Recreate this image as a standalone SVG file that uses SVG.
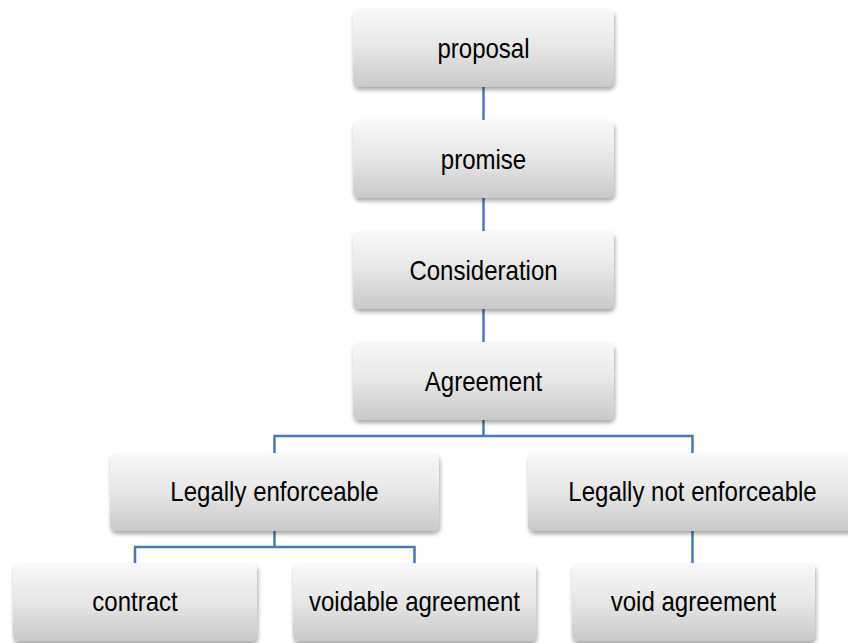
<svg xmlns="http://www.w3.org/2000/svg" width="848" height="643" viewBox="0 0 848 643">
<defs>
<linearGradient id="g" x1="0" y1="0" x2="0" y2="1">
<stop offset="0" stop-color="#f9f9f9"/>
<stop offset="0.5" stop-color="#e6e6e6"/>
<stop offset="1" stop-color="#c9c9c9"/>
</linearGradient>
<filter id="sh" x="-10%" y="-10%" width="120%" height="130%">
<feDropShadow dx="1" dy="3" stdDeviation="2" flood-color="#000" flood-opacity="0.35"/>
</filter>
</defs>
<style>
.n rect{fill:url(#g);filter:url(#sh)}
.n text{font-family:"Liberation Sans",Arial,sans-serif;font-size:27px;fill:#000;text-anchor:middle}
#connectors path{fill:none;stroke:#4a78b4;stroke-width:2.5}
</style>
<rect width="848" height="643" fill="#fff"/>
<g id="connectors">
<path d="M483.5 87V120"/>
<path d="M483.5 198V231"/>
<path d="M483.5 309V342"/>
<path d="M483.5 420V436M274.5 453V436H692.5V453"/>
<path d="M274.5 531V547M135 563V547H414.5V563"/>
<path d="M692.5 531V563"/>
</g>
<g id="proposal" class="n"><rect x="353" y="9" width="261" height="78" rx="6"/><text transform="translate(483.5 57.5) scale(0.89 1)">proposal</text></g>
<g id="promise" class="n"><rect x="353" y="120" width="261" height="78" rx="6"/><text transform="translate(483.5 168.5) scale(0.89 1)">promise</text></g>
<g id="consideration" class="n"><rect x="353" y="231" width="261" height="78" rx="6"/><text transform="translate(483.5 279.5) scale(0.89 1)">Consideration</text></g>
<g id="agreement" class="n"><rect x="353" y="342" width="261" height="78" rx="6"/><text transform="translate(483.5 390.5) scale(0.89 1)">Agreement</text></g>
<g id="legally-enforceable" class="n"><rect x="110" y="453" width="329" height="78" rx="6"/><text transform="translate(274.5 500.5) scale(0.89 1)">Legally enforceable</text></g>
<g id="legally-not-enforceable" class="n"><rect x="528" y="453" width="329" height="78" rx="6"/><text transform="translate(692.5 500.5) scale(0.89 1)">Legally not enforceable</text></g>
<g id="contract" class="n"><rect x="13" y="563" width="244" height="78" rx="6"/><text transform="translate(135 610.5) scale(0.89 1)">contract</text></g>
<g id="voidable-agreement" class="n"><rect x="293" y="563" width="243" height="78" rx="6"/><text transform="translate(414.5 610.5) scale(0.89 1)">voidable agreement</text></g>
<g id="void-agreement" class="n"><rect x="572" y="563" width="243" height="78" rx="6"/><text transform="translate(693.5 610.5) scale(0.89 1)">void agreement</text></g>
</svg>
